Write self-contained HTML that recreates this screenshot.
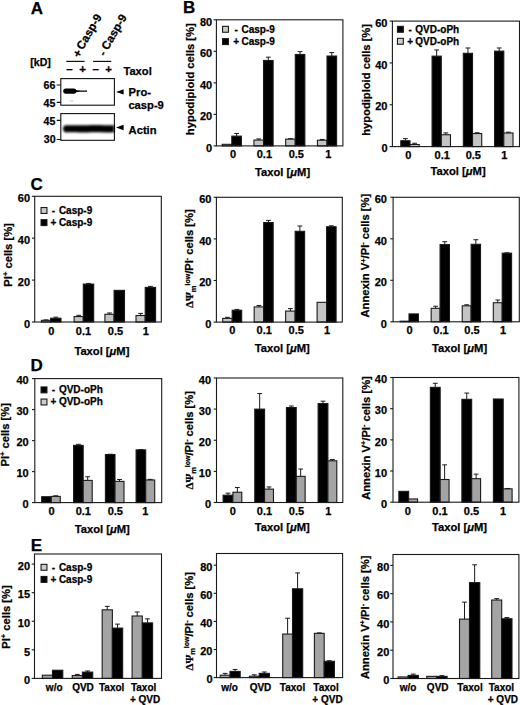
<!DOCTYPE html>
<html><head><meta charset="utf-8"><style>
html,body{margin:0;padding:0;background:#fff;}
svg{display:block;}
text{font-family:"Liberation Sans", sans-serif;font-weight:bold;fill:#000;stroke:#000;stroke-width:0.25px;}
.tk{font-size:11px;}
.tk2{font-size:10px;}
.lg{font-size:10px;}
.tt{font-size:11.2px;}
.pl{font-size:17px;}
.bl{font-size:10.6px;}
.bl2{font-size:11.2px;}
.blr{font-size:11.6px;}
.bls{font-size:11.5px;}
</style></head><body>
<svg width="520" height="705" viewBox="0 0 520 705">
<rect width="520" height="705" fill="#fff"/>
<rect x="222.20" y="144.32" width="9.6" height="1.58" fill="#c4c4c4" stroke="#1a1a1a" stroke-width="1.1"/>
<rect x="231.80" y="136.13" width="9.6" height="9.77" fill="#000" stroke="#1a1a1a" stroke-width="1.1"/>
<path d="M236.60 136.13V133.45M234.20 133.45H239.00" stroke="#1a1a1a" stroke-width="1" fill="none"/>
<rect x="253.93" y="140.07" width="9.6" height="5.83" fill="#c4c4c4" stroke="#1a1a1a" stroke-width="1.1"/>
<path d="M258.73 140.07V138.96M256.33 138.96H261.13" stroke="#1a1a1a" stroke-width="1" fill="none"/>
<rect x="263.53" y="60.47" width="9.6" height="85.43" fill="#000" stroke="#1a1a1a" stroke-width="1.1"/>
<path d="M268.33 60.47V57.16M265.93 57.16H270.73" stroke="#1a1a1a" stroke-width="1" fill="none"/>
<rect x="285.67" y="139.12" width="9.6" height="6.78" fill="#c4c4c4" stroke="#1a1a1a" stroke-width="1.1"/>
<path d="M290.47 139.12V138.65M288.07 138.65H292.87" stroke="#1a1a1a" stroke-width="1" fill="none"/>
<rect x="295.27" y="54.48" width="9.6" height="91.42" fill="#000" stroke="#1a1a1a" stroke-width="1.1"/>
<path d="M300.07 54.48V51.64M297.67 51.64H302.47" stroke="#1a1a1a" stroke-width="1" fill="none"/>
<rect x="317.40" y="140.23" width="9.6" height="5.67" fill="#c4c4c4" stroke="#1a1a1a" stroke-width="1.1"/>
<path d="M322.20 140.23V139.44M319.80 139.44H324.60" stroke="#1a1a1a" stroke-width="1" fill="none"/>
<rect x="327.00" y="56.05" width="9.6" height="89.85" fill="#000" stroke="#1a1a1a" stroke-width="1.1"/>
<path d="M331.80 56.05V52.59M329.40 52.59H334.20" stroke="#1a1a1a" stroke-width="1" fill="none"/>
<rect x="216.4" y="19.8" width="126.50" height="126.10" fill="none" stroke="#1a1a1a" stroke-width="1.1"/>
<line x1="213.6" y1="145.90" x2="216.4" y2="145.90" stroke="#1a1a1a" stroke-width="1.1"/>
<text x="212.20" y="151.60" text-anchor="end" class="tk">0</text>
<line x1="213.6" y1="114.38" x2="216.4" y2="114.38" stroke="#1a1a1a" stroke-width="1.1"/>
<text x="212.20" y="120.08" text-anchor="end" class="tk">20</text>
<line x1="213.6" y1="82.85" x2="216.4" y2="82.85" stroke="#1a1a1a" stroke-width="1.1"/>
<text x="212.20" y="88.55" text-anchor="end" class="tk">40</text>
<line x1="213.6" y1="51.33" x2="216.4" y2="51.33" stroke="#1a1a1a" stroke-width="1.1"/>
<text x="212.20" y="57.03" text-anchor="end" class="tk">60</text>
<line x1="213.6" y1="19.80" x2="216.4" y2="19.80" stroke="#1a1a1a" stroke-width="1.1"/>
<text x="212.20" y="25.50" text-anchor="end" class="tk">80</text>
<rect x="222.55" y="26.35" width="5.9" height="5.9" fill="#cdcdcd" stroke="#1a1a1a" stroke-width="1.1"/>
<text x="236.10" y="32.60" text-anchor="middle" class="lg">-</text>
<text x="241.50" y="32.60" class="lg">Casp-9</text>
<rect x="222.55" y="38.65" width="5.9" height="5.9" fill="#000" stroke="#1a1a1a" stroke-width="1.1"/>
<text x="236.10" y="44.90" text-anchor="middle" class="lg">+</text>
<text x="241.50" y="44.90" class="lg">Casp-9</text>
<text x="233.1" y="158.20" text-anchor="middle" class="tk">0</text>
<text x="264.4" y="158.20" text-anchor="middle" class="tk">0.1</text>
<text x="296.3" y="158.20" text-anchor="middle" class="tk">0.5</text>
<text x="328.3" y="158.20" text-anchor="middle" class="tk">1</text>
<text x="282.6" y="175.9" text-anchor="middle" class="tt">Taxol [<tspan font-style="italic">&#956;</tspan>M]</text>
<text transform="translate(193.6,79.2) rotate(-90)" text-anchor="middle" class="tt">hypodiploid cells [%]</text>
<rect x="400.80" y="140.74" width="9.2" height="5.86" fill="#000" stroke="#1a1a1a" stroke-width="1.1"/>
<path d="M405.40 140.74V138.65M403.00 138.65H407.80" stroke="#1a1a1a" stroke-width="1" fill="none"/>
<rect x="410.00" y="144.51" width="9.2" height="2.09" fill="#c4c4c4" stroke="#1a1a1a" stroke-width="1.1"/>
<path d="M414.60 144.51V143.25M412.20 143.25H417.00" stroke="#1a1a1a" stroke-width="1" fill="none"/>
<rect x="432.07" y="56.14" width="9.2" height="90.46" fill="#000" stroke="#1a1a1a" stroke-width="1.1"/>
<path d="M436.67 56.14V49.96M434.27 49.96H439.07" stroke="#1a1a1a" stroke-width="1" fill="none"/>
<rect x="441.27" y="134.74" width="9.2" height="11.86" fill="#c4c4c4" stroke="#1a1a1a" stroke-width="1.1"/>
<path d="M445.87 134.74V132.90M443.47 132.90H448.27" stroke="#1a1a1a" stroke-width="1" fill="none"/>
<rect x="463.33" y="53.31" width="9.2" height="93.29" fill="#000" stroke="#1a1a1a" stroke-width="1.1"/>
<path d="M467.93 53.31V47.98M465.53 47.98H470.33" stroke="#1a1a1a" stroke-width="1" fill="none"/>
<rect x="472.53" y="133.53" width="9.2" height="13.07" fill="#c4c4c4" stroke="#1a1a1a" stroke-width="1.1"/>
<path d="M477.13 133.53V132.79M474.73 132.79H479.53" stroke="#1a1a1a" stroke-width="1" fill="none"/>
<rect x="494.60" y="51.12" width="9.2" height="95.48" fill="#000" stroke="#1a1a1a" stroke-width="1.1"/>
<path d="M499.20 51.12V47.98M496.80 47.98H501.60" stroke="#1a1a1a" stroke-width="1" fill="none"/>
<rect x="503.80" y="133.00" width="9.2" height="13.60" fill="#c4c4c4" stroke="#1a1a1a" stroke-width="1.1"/>
<path d="M508.40 133.00V132.17M506.00 132.17H510.80" stroke="#1a1a1a" stroke-width="1" fill="none"/>
<rect x="392.4" y="21.1" width="127.10" height="125.50" fill="none" stroke="#1a1a1a" stroke-width="1.1"/>
<line x1="389.59999999999997" y1="146.60" x2="392.4" y2="146.60" stroke="#1a1a1a" stroke-width="1.1"/>
<text x="387.50" y="152.30" text-anchor="end" class="tk">0</text>
<line x1="389.59999999999997" y1="104.77" x2="392.4" y2="104.77" stroke="#1a1a1a" stroke-width="1.1"/>
<text x="387.50" y="110.47" text-anchor="end" class="tk">20</text>
<line x1="389.59999999999997" y1="62.93" x2="392.4" y2="62.93" stroke="#1a1a1a" stroke-width="1.1"/>
<text x="387.50" y="68.63" text-anchor="end" class="tk">40</text>
<line x1="389.59999999999997" y1="21.10" x2="392.4" y2="21.10" stroke="#1a1a1a" stroke-width="1.1"/>
<text x="387.50" y="26.80" text-anchor="end" class="tk">60</text>
<rect x="397.45" y="26.35" width="5.9" height="5.9" fill="#000" stroke="#1a1a1a" stroke-width="1.1"/>
<text x="410.10" y="32.60" text-anchor="middle" class="lg">-</text>
<text x="415.35" y="32.60" class="lg">QVD-oPh</text>
<rect x="397.45" y="38.35" width="5.9" height="5.9" fill="#cdcdcd" stroke="#1a1a1a" stroke-width="1.1"/>
<text x="410.10" y="44.60" text-anchor="middle" class="lg">+</text>
<text x="415.35" y="44.60" class="lg">QVD-oPh</text>
<text x="408.4" y="158.90" text-anchor="middle" class="tk">0</text>
<text x="442.2" y="158.90" text-anchor="middle" class="tk">0.1</text>
<text x="473.3" y="158.90" text-anchor="middle" class="tk">0.5</text>
<text x="504.3" y="158.90" text-anchor="middle" class="tk">1</text>
<text x="458.1" y="175.4" text-anchor="middle" class="tt">Taxol [<tspan font-style="italic">&#956;</tspan>M]</text>
<text transform="translate(370.1,79.9) rotate(-90)" text-anchor="middle" class="tt">hypodiploid cells [%]</text>
<rect x="41.40" y="320.32" width="9.2" height="1.68" fill="#c4c4c4" stroke="#1a1a1a" stroke-width="1.1"/>
<path d="M46.00 320.32V319.90M43.60 319.90H48.40" stroke="#1a1a1a" stroke-width="1" fill="none"/>
<rect x="50.60" y="318.23" width="10.4" height="3.77" fill="#000" stroke="#1a1a1a" stroke-width="1.1"/>
<path d="M55.80 318.23V317.18M53.40 317.18H58.20" stroke="#1a1a1a" stroke-width="1" fill="none"/>
<rect x="74.10" y="316.55" width="9.2" height="5.45" fill="#c4c4c4" stroke="#1a1a1a" stroke-width="1.1"/>
<path d="M78.70 316.55V315.30M76.30 315.30H81.10" stroke="#1a1a1a" stroke-width="1" fill="none"/>
<rect x="83.30" y="284.08" width="10.4" height="37.92" fill="#000" stroke="#1a1a1a" stroke-width="1.1"/>
<path d="M88.50 284.08V283.45M86.10 283.45H90.90" stroke="#1a1a1a" stroke-width="1" fill="none"/>
<rect x="104.90" y="314.25" width="9.2" height="7.75" fill="#c4c4c4" stroke="#1a1a1a" stroke-width="1.1"/>
<path d="M109.50 314.25V312.99M107.10 312.99H111.90" stroke="#1a1a1a" stroke-width="1" fill="none"/>
<rect x="114.10" y="290.37" width="10.4" height="31.63" fill="#000" stroke="#1a1a1a" stroke-width="1.1"/>
<rect x="136.00" y="315.51" width="9.2" height="6.49" fill="#c4c4c4" stroke="#1a1a1a" stroke-width="1.1"/>
<path d="M140.60 315.51V313.41M138.20 313.41H143.00" stroke="#1a1a1a" stroke-width="1" fill="none"/>
<rect x="145.20" y="287.43" width="10.4" height="34.57" fill="#000" stroke="#1a1a1a" stroke-width="1.1"/>
<path d="M150.40 287.43V286.38M148.00 286.38H152.80" stroke="#1a1a1a" stroke-width="1" fill="none"/>
<rect x="34.7" y="196.3" width="126.60" height="125.70" fill="none" stroke="#1a1a1a" stroke-width="1.1"/>
<line x1="31.900000000000002" y1="322.00" x2="34.7" y2="322.00" stroke="#1a1a1a" stroke-width="1.1"/>
<text x="30.10" y="327.70" text-anchor="end" class="tk">0</text>
<line x1="31.900000000000002" y1="280.10" x2="34.7" y2="280.10" stroke="#1a1a1a" stroke-width="1.1"/>
<text x="30.10" y="285.80" text-anchor="end" class="tk">20</text>
<line x1="31.900000000000002" y1="238.20" x2="34.7" y2="238.20" stroke="#1a1a1a" stroke-width="1.1"/>
<text x="30.10" y="243.90" text-anchor="end" class="tk">40</text>
<line x1="31.900000000000002" y1="196.30" x2="34.7" y2="196.30" stroke="#1a1a1a" stroke-width="1.1"/>
<text x="30.10" y="202.00" text-anchor="end" class="tk">60</text>
<rect x="41.05" y="207.55" width="5.9" height="5.9" fill="#cdcdcd" stroke="#1a1a1a" stroke-width="1.1"/>
<text x="53.40" y="213.80" text-anchor="middle" class="lg">-</text>
<text x="58.90" y="213.80" class="lg">Casp-9</text>
<rect x="41.05" y="219.65" width="5.9" height="5.9" fill="#000" stroke="#1a1a1a" stroke-width="1.1"/>
<text x="53.40" y="225.90" text-anchor="middle" class="lg">+</text>
<text x="58.90" y="225.90" class="lg">Casp-9</text>
<text x="51.4" y="334.80" text-anchor="middle" class="tk">0</text>
<text x="83.5" y="334.80" text-anchor="middle" class="tk">0.1</text>
<text x="115.5" y="334.80" text-anchor="middle" class="tk">0.5</text>
<text x="145.9" y="334.80" text-anchor="middle" class="tk">1</text>
<text x="101.9" y="354.5" text-anchor="middle" class="tt">Taxol [<tspan font-style="italic">&#956;</tspan>M]</text>
<text transform="translate(11.5,254.9) rotate(-90)" text-anchor="middle" class="tt">PI<tspan dy="-3.4" font-size="7.5">+</tspan><tspan dy="3.4"> cells [%]</tspan></text>
<rect x="222.70" y="318.36" width="9.5" height="3.74" fill="#c4c4c4" stroke="#1a1a1a" stroke-width="1.1"/>
<path d="M227.45 318.36V317.32M225.05 317.32H229.85" stroke="#1a1a1a" stroke-width="1" fill="none"/>
<rect x="232.20" y="310.24" width="9.5" height="11.86" fill="#000" stroke="#1a1a1a" stroke-width="1.1"/>
<path d="M236.95 310.24V309.41M234.55 309.41H239.35" stroke="#1a1a1a" stroke-width="1" fill="none"/>
<rect x="254.17" y="306.92" width="9.5" height="15.18" fill="#c4c4c4" stroke="#1a1a1a" stroke-width="1.1"/>
<path d="M258.92 306.92V305.46M256.52 305.46H261.32" stroke="#1a1a1a" stroke-width="1" fill="none"/>
<rect x="263.67" y="222.57" width="9.5" height="99.53" fill="#000" stroke="#1a1a1a" stroke-width="1.1"/>
<path d="M268.42 222.57V220.39M266.02 220.39H270.82" stroke="#1a1a1a" stroke-width="1" fill="none"/>
<rect x="285.63" y="311.08" width="9.5" height="11.02" fill="#c4c4c4" stroke="#1a1a1a" stroke-width="1.1"/>
<path d="M290.38 311.08V308.58M287.98 308.58H292.78" stroke="#1a1a1a" stroke-width="1" fill="none"/>
<rect x="295.13" y="231.31" width="9.5" height="90.79" fill="#000" stroke="#1a1a1a" stroke-width="1.1"/>
<path d="M299.88 231.31V226.00M297.48 226.00H302.28" stroke="#1a1a1a" stroke-width="1" fill="none"/>
<rect x="317.10" y="302.34" width="9.5" height="19.76" fill="#c4c4c4" stroke="#1a1a1a" stroke-width="1.1"/>
<rect x="326.60" y="226.73" width="9.5" height="95.37" fill="#000" stroke="#1a1a1a" stroke-width="1.1"/>
<path d="M331.35 226.73V225.80M328.95 225.80H333.75" stroke="#1a1a1a" stroke-width="1" fill="none"/>
<rect x="216.4" y="197.3" width="125.90" height="124.80" fill="none" stroke="#1a1a1a" stroke-width="1.1"/>
<line x1="213.6" y1="322.10" x2="216.4" y2="322.10" stroke="#1a1a1a" stroke-width="1.1"/>
<text x="211.45" y="327.80" text-anchor="end" class="tk">0</text>
<line x1="213.6" y1="280.50" x2="216.4" y2="280.50" stroke="#1a1a1a" stroke-width="1.1"/>
<text x="211.45" y="286.20" text-anchor="end" class="tk">20</text>
<line x1="213.6" y1="238.90" x2="216.4" y2="238.90" stroke="#1a1a1a" stroke-width="1.1"/>
<text x="211.45" y="244.60" text-anchor="end" class="tk">40</text>
<line x1="213.6" y1="197.30" x2="216.4" y2="197.30" stroke="#1a1a1a" stroke-width="1.1"/>
<text x="211.45" y="203.00" text-anchor="end" class="tk">60</text>
<text x="232.2" y="334.40" text-anchor="middle" class="tk">0</text>
<text x="264.2" y="334.40" text-anchor="middle" class="tk">0.1</text>
<text x="296.2" y="334.40" text-anchor="middle" class="tk">0.5</text>
<text x="327.1" y="334.40" text-anchor="middle" class="tk">1</text>
<text x="282.3" y="352.0" text-anchor="middle" class="tt">Taxol [<tspan font-style="italic">&#956;</tspan>M]</text>
<text transform="translate(192.9,258.6) rotate(-90)" text-anchor="middle" class="tt"><tspan font-family="Liberation Serif">&#916;&#936;</tspan><tspan dy="2.8" font-size="7.5">m</tspan><tspan dy="-6.2" font-size="7">low</tspan><tspan dy="3.4">/PI</tspan><tspan dy="-3.6" font-size="7">-</tspan><tspan dy="3.6"> cells [%]</tspan></text>
<rect x="400.10" y="321.18" width="8.9" height="0.62" fill="#c4c4c4" stroke="#1a1a1a" stroke-width="1.1"/>
<rect x="409.00" y="313.92" width="9.4" height="7.88" fill="#000" stroke="#1a1a1a" stroke-width="1.1"/>
<rect x="431.17" y="308.31" width="8.9" height="13.49" fill="#c4c4c4" stroke="#1a1a1a" stroke-width="1.1"/>
<path d="M435.62 308.31V306.24M433.22 306.24H438.02" stroke="#1a1a1a" stroke-width="1" fill="none"/>
<rect x="440.07" y="244.61" width="9.4" height="77.19" fill="#000" stroke="#1a1a1a" stroke-width="1.1"/>
<path d="M444.77 244.61V241.70M442.37 241.70H447.17" stroke="#1a1a1a" stroke-width="1" fill="none"/>
<rect x="462.23" y="305.82" width="8.9" height="15.98" fill="#c4c4c4" stroke="#1a1a1a" stroke-width="1.1"/>
<path d="M466.68 305.82V304.79M464.28 304.79H469.08" stroke="#1a1a1a" stroke-width="1" fill="none"/>
<rect x="471.13" y="244.30" width="9.4" height="77.50" fill="#000" stroke="#1a1a1a" stroke-width="1.1"/>
<path d="M475.83 244.30V239.73M473.43 239.73H478.23" stroke="#1a1a1a" stroke-width="1" fill="none"/>
<rect x="493.30" y="302.71" width="8.9" height="19.09" fill="#c4c4c4" stroke="#1a1a1a" stroke-width="1.1"/>
<path d="M497.75 302.71V300.01M495.35 300.01H500.15" stroke="#1a1a1a" stroke-width="1" fill="none"/>
<rect x="502.20" y="253.18" width="9.4" height="68.62" fill="#000" stroke="#1a1a1a" stroke-width="1.1"/>
<path d="M506.90 253.18V252.81M504.50 252.81H509.30" stroke="#1a1a1a" stroke-width="1" fill="none"/>
<rect x="393.1" y="197.3" width="126.20" height="124.50" fill="none" stroke="#1a1a1a" stroke-width="1.1"/>
<line x1="390.3" y1="321.80" x2="393.1" y2="321.80" stroke="#1a1a1a" stroke-width="1.1"/>
<text x="386.90" y="327.50" text-anchor="end" class="tk">0</text>
<line x1="390.3" y1="280.30" x2="393.1" y2="280.30" stroke="#1a1a1a" stroke-width="1.1"/>
<text x="386.90" y="286.00" text-anchor="end" class="tk">20</text>
<line x1="390.3" y1="238.80" x2="393.1" y2="238.80" stroke="#1a1a1a" stroke-width="1.1"/>
<text x="386.90" y="244.50" text-anchor="end" class="tk">40</text>
<line x1="390.3" y1="197.30" x2="393.1" y2="197.30" stroke="#1a1a1a" stroke-width="1.1"/>
<text x="386.90" y="203.00" text-anchor="end" class="tk">60</text>
<text x="409.5" y="334.10" text-anchor="middle" class="tk">0</text>
<text x="441" y="334.10" text-anchor="middle" class="tk">0.1</text>
<text x="472" y="334.10" text-anchor="middle" class="tk">0.5</text>
<text x="503" y="334.10" text-anchor="middle" class="tk">1</text>
<text x="459.6" y="352.0" text-anchor="middle" class="tt">Taxol [<tspan font-style="italic">&#956;</tspan>M]</text>
<text transform="translate(368.9,255.7) rotate(-90)" text-anchor="middle" class="tt">Annexin V<tspan dy="-3.4" font-size="7.5">+</tspan><tspan dy="3.4">/PI</tspan><tspan dy="-3.6" font-size="7">-</tspan><tspan dy="3.6"> cells [%]</tspan></text>
<rect x="41.65" y="496.71" width="9.6" height="5.89" fill="#000" stroke="#1a1a1a" stroke-width="1.1"/>
<rect x="51.25" y="496.40" width="9.0" height="6.20" fill="#a4a4a4" stroke="#1a1a1a" stroke-width="1.1"/>
<path d="M55.75 496.40V495.78M53.35 495.78H58.15" stroke="#1a1a1a" stroke-width="1" fill="none"/>
<rect x="73.60" y="445.37" width="9.6" height="57.23" fill="#000" stroke="#1a1a1a" stroke-width="1.1"/>
<path d="M78.40 445.37V444.32M76.00 444.32H80.80" stroke="#1a1a1a" stroke-width="1" fill="none"/>
<rect x="83.20" y="480.40" width="9.0" height="22.20" fill="#a4a4a4" stroke="#1a1a1a" stroke-width="1.1"/>
<path d="M87.70 480.40V476.75M85.30 476.75H90.10" stroke="#1a1a1a" stroke-width="1" fill="none"/>
<rect x="105.40" y="454.55" width="9.6" height="48.05" fill="#000" stroke="#1a1a1a" stroke-width="1.1"/>
<path d="M110.20 454.55V454.24M107.80 454.24H112.60" stroke="#1a1a1a" stroke-width="1" fill="none"/>
<rect x="115.00" y="481.37" width="9.0" height="21.24" fill="#a4a4a4" stroke="#1a1a1a" stroke-width="1.1"/>
<path d="M119.50 481.37V479.50M117.10 479.50H121.90" stroke="#1a1a1a" stroke-width="1" fill="none"/>
<rect x="136.10" y="449.90" width="9.6" height="52.70" fill="#000" stroke="#1a1a1a" stroke-width="1.1"/>
<path d="M140.90 449.90V449.59M138.50 449.59H143.30" stroke="#1a1a1a" stroke-width="1" fill="none"/>
<rect x="145.70" y="479.97" width="9.0" height="22.63" fill="#a4a4a4" stroke="#1a1a1a" stroke-width="1.1"/>
<path d="M150.20 479.97V479.35M147.80 479.35H152.60" stroke="#1a1a1a" stroke-width="1" fill="none"/>
<rect x="34.8" y="378.6" width="126.90" height="124.00" fill="none" stroke="#1a1a1a" stroke-width="1.1"/>
<line x1="31.999999999999996" y1="502.60" x2="34.8" y2="502.60" stroke="#1a1a1a" stroke-width="1.1"/>
<text x="28.70" y="508.30" text-anchor="end" class="tk">0</text>
<line x1="31.999999999999996" y1="471.60" x2="34.8" y2="471.60" stroke="#1a1a1a" stroke-width="1.1"/>
<text x="28.70" y="477.30" text-anchor="end" class="tk">10</text>
<line x1="31.999999999999996" y1="440.60" x2="34.8" y2="440.60" stroke="#1a1a1a" stroke-width="1.1"/>
<text x="28.70" y="446.30" text-anchor="end" class="tk">20</text>
<line x1="31.999999999999996" y1="409.60" x2="34.8" y2="409.60" stroke="#1a1a1a" stroke-width="1.1"/>
<text x="28.70" y="415.30" text-anchor="end" class="tk">30</text>
<line x1="31.999999999999996" y1="378.60" x2="34.8" y2="378.60" stroke="#1a1a1a" stroke-width="1.1"/>
<text x="28.70" y="384.30" text-anchor="end" class="tk">40</text>
<rect x="41.05" y="386.95" width="5.9" height="5.9" fill="#000" stroke="#1a1a1a" stroke-width="1.1"/>
<text x="53.40" y="393.20" text-anchor="middle" class="lg">-</text>
<text x="58.90" y="393.20" class="lg">QVD-oPh</text>
<rect x="41.05" y="399.05" width="5.9" height="5.9" fill="#cdcdcd" stroke="#1a1a1a" stroke-width="1.1"/>
<text x="53.40" y="405.30" text-anchor="middle" class="lg">+</text>
<text x="58.90" y="405.30" class="lg">QVD-oPh</text>
<text x="51.5" y="514.90" text-anchor="middle" class="tk">0</text>
<text x="83.3" y="514.90" text-anchor="middle" class="tk">0.1</text>
<text x="115.3" y="514.90" text-anchor="middle" class="tk">0.5</text>
<text x="145.3" y="514.90" text-anchor="middle" class="tk">1</text>
<text x="102.3" y="532.7" text-anchor="middle" class="tt">Taxol [<tspan font-style="italic">&#956;</tspan>M]</text>
<text transform="translate(8.6,434.8) rotate(-90)" text-anchor="middle" class="tt">PI<tspan dy="-3.4" font-size="7.5">+</tspan><tspan dy="3.4"> cells [%]</tspan></text>
<rect x="223.10" y="495.19" width="9.8" height="7.31" fill="#000" stroke="#1a1a1a" stroke-width="1.1"/>
<path d="M228.00 495.19V493.16M225.60 493.16H230.40" stroke="#1a1a1a" stroke-width="1" fill="none"/>
<rect x="232.90" y="492.23" width="8.9" height="10.27" fill="#a4a4a4" stroke="#1a1a1a" stroke-width="1.1"/>
<path d="M237.35 492.23V487.56M234.95 487.56H239.75" stroke="#1a1a1a" stroke-width="1" fill="none"/>
<rect x="254.77" y="409.12" width="9.8" height="93.38" fill="#000" stroke="#1a1a1a" stroke-width="1.1"/>
<path d="M259.67 409.12V393.56M257.27 393.56H262.07" stroke="#1a1a1a" stroke-width="1" fill="none"/>
<rect x="264.57" y="489.12" width="8.9" height="13.38" fill="#a4a4a4" stroke="#1a1a1a" stroke-width="1.1"/>
<path d="M269.02 489.12V486.94M266.62 486.94H271.42" stroke="#1a1a1a" stroke-width="1" fill="none"/>
<rect x="286.43" y="407.57" width="9.8" height="94.93" fill="#000" stroke="#1a1a1a" stroke-width="1.1"/>
<path d="M291.33 407.57V406.01M288.93 406.01H293.73" stroke="#1a1a1a" stroke-width="1" fill="none"/>
<rect x="296.23" y="476.36" width="8.9" height="26.14" fill="#a4a4a4" stroke="#1a1a1a" stroke-width="1.1"/>
<path d="M300.68 476.36V469.04M298.28 469.04H303.08" stroke="#1a1a1a" stroke-width="1" fill="none"/>
<rect x="318.10" y="403.58" width="9.8" height="98.92" fill="#000" stroke="#1a1a1a" stroke-width="1.1"/>
<path d="M323.00 403.58V401.19M320.60 401.19H325.40" stroke="#1a1a1a" stroke-width="1" fill="none"/>
<rect x="327.90" y="460.79" width="8.9" height="41.71" fill="#a4a4a4" stroke="#1a1a1a" stroke-width="1.1"/>
<path d="M332.35 460.79V459.55M329.95 459.55H334.75" stroke="#1a1a1a" stroke-width="1" fill="none"/>
<rect x="216.5" y="378.0" width="126.30" height="124.50" fill="none" stroke="#1a1a1a" stroke-width="1.1"/>
<line x1="213.7" y1="502.50" x2="216.5" y2="502.50" stroke="#1a1a1a" stroke-width="1.1"/>
<text x="211.10" y="508.20" text-anchor="end" class="tk">0</text>
<line x1="213.7" y1="471.38" x2="216.5" y2="471.38" stroke="#1a1a1a" stroke-width="1.1"/>
<text x="211.10" y="477.07" text-anchor="end" class="tk">10</text>
<line x1="213.7" y1="440.25" x2="216.5" y2="440.25" stroke="#1a1a1a" stroke-width="1.1"/>
<text x="211.10" y="445.95" text-anchor="end" class="tk">20</text>
<line x1="213.7" y1="409.12" x2="216.5" y2="409.12" stroke="#1a1a1a" stroke-width="1.1"/>
<text x="211.10" y="414.82" text-anchor="end" class="tk">30</text>
<line x1="213.7" y1="378.00" x2="216.5" y2="378.00" stroke="#1a1a1a" stroke-width="1.1"/>
<text x="211.10" y="383.70" text-anchor="end" class="tk">40</text>
<text x="232.8" y="514.80" text-anchor="middle" class="tk">0</text>
<text x="264.5" y="514.80" text-anchor="middle" class="tk">0.1</text>
<text x="296.5" y="514.80" text-anchor="middle" class="tk">0.5</text>
<text x="328.3" y="514.80" text-anchor="middle" class="tk">1</text>
<text x="282.3" y="531.2" text-anchor="middle" class="tt">Taxol [<tspan font-style="italic">&#956;</tspan>M]</text>
<text transform="translate(193.0,440.3) rotate(-90)" text-anchor="middle" class="tt"><tspan font-family="Liberation Serif">&#916;&#936;</tspan><tspan dy="2.8" font-size="7.5">m</tspan><tspan dy="-6.2" font-size="7">low</tspan><tspan dy="3.4">/PI</tspan><tspan dy="-3.6" font-size="7">-</tspan><tspan dy="3.6"> cells [%]</tspan></text>
<rect x="398.85" y="491.35" width="9.8" height="10.85" fill="#000" stroke="#1a1a1a" stroke-width="1.1"/>
<rect x="408.65" y="498.96" width="8.9" height="3.24" fill="#a4a4a4" stroke="#1a1a1a" stroke-width="1.1"/>
<rect x="430.37" y="387.35" width="9.8" height="114.85" fill="#000" stroke="#1a1a1a" stroke-width="1.1"/>
<path d="M435.27 387.35V383.30M432.87 383.30H437.67" stroke="#1a1a1a" stroke-width="1" fill="none"/>
<rect x="440.17" y="479.50" width="8.9" height="22.70" fill="#a4a4a4" stroke="#1a1a1a" stroke-width="1.1"/>
<path d="M444.62 479.50V464.85M442.22 464.85H447.02" stroke="#1a1a1a" stroke-width="1" fill="none"/>
<rect x="461.88" y="399.32" width="9.8" height="102.88" fill="#000" stroke="#1a1a1a" stroke-width="1.1"/>
<path d="M466.78 399.32V393.09M464.38 393.09H469.18" stroke="#1a1a1a" stroke-width="1" fill="none"/>
<rect x="471.68" y="478.69" width="8.9" height="23.51" fill="#a4a4a4" stroke="#1a1a1a" stroke-width="1.1"/>
<path d="M476.13 478.69V474.14M473.73 474.14H478.53" stroke="#1a1a1a" stroke-width="1" fill="none"/>
<rect x="493.40" y="399.01" width="9.8" height="103.19" fill="#000" stroke="#1a1a1a" stroke-width="1.1"/>
<rect x="503.20" y="488.86" width="8.9" height="13.34" fill="#a4a4a4" stroke="#1a1a1a" stroke-width="1.1"/>
<path d="M507.65 488.86V488.48M505.25 488.48H510.05" stroke="#1a1a1a" stroke-width="1" fill="none"/>
<rect x="393.0" y="377.5" width="125.90" height="124.70" fill="none" stroke="#1a1a1a" stroke-width="1.1"/>
<line x1="390.2" y1="502.20" x2="393.0" y2="502.20" stroke="#1a1a1a" stroke-width="1.1"/>
<text x="387.10" y="507.90" text-anchor="end" class="tk">0</text>
<line x1="390.2" y1="471.02" x2="393.0" y2="471.02" stroke="#1a1a1a" stroke-width="1.1"/>
<text x="387.10" y="476.72" text-anchor="end" class="tk">10</text>
<line x1="390.2" y1="439.85" x2="393.0" y2="439.85" stroke="#1a1a1a" stroke-width="1.1"/>
<text x="387.10" y="445.55" text-anchor="end" class="tk">20</text>
<line x1="390.2" y1="408.67" x2="393.0" y2="408.67" stroke="#1a1a1a" stroke-width="1.1"/>
<text x="387.10" y="414.37" text-anchor="end" class="tk">30</text>
<line x1="390.2" y1="377.50" x2="393.0" y2="377.50" stroke="#1a1a1a" stroke-width="1.1"/>
<text x="387.10" y="383.20" text-anchor="end" class="tk">40</text>
<text x="407.8" y="514.50" text-anchor="middle" class="tk">0</text>
<text x="440" y="514.50" text-anchor="middle" class="tk">0.1</text>
<text x="471.5" y="514.50" text-anchor="middle" class="tk">0.5</text>
<text x="503" y="514.50" text-anchor="middle" class="tk">1</text>
<text x="459.5" y="530.7" text-anchor="middle" class="tt">Taxol [<tspan font-style="italic">&#956;</tspan>M]</text>
<text transform="translate(369.5,438.0) rotate(-90)" text-anchor="middle" class="tt">Annexin V<tspan dy="-3.4" font-size="7.5">+</tspan><tspan dy="3.4">/PI</tspan><tspan dy="-3.6" font-size="7">-</tspan><tspan dy="3.6"> cells [%]</tspan></text>
<rect x="42.30" y="675.20" width="10.2" height="3.20" fill="#a4a4a4" stroke="#1a1a1a" stroke-width="1.1"/>
<rect x="52.50" y="670.23" width="10.3" height="8.17" fill="#000" stroke="#1a1a1a" stroke-width="1.1"/>
<rect x="72.23" y="675.54" width="10.2" height="2.86" fill="#a4a4a4" stroke="#1a1a1a" stroke-width="1.1"/>
<path d="M77.33 675.54V674.40M74.93 674.40H79.73" stroke="#1a1a1a" stroke-width="1" fill="none"/>
<rect x="82.43" y="672.11" width="10.3" height="6.29" fill="#000" stroke="#1a1a1a" stroke-width="1.1"/>
<path d="M87.58 672.11V670.97M85.18 670.97H89.98" stroke="#1a1a1a" stroke-width="1" fill="none"/>
<rect x="102.17" y="609.82" width="10.2" height="68.58" fill="#a4a4a4" stroke="#1a1a1a" stroke-width="1.1"/>
<path d="M107.27 609.82V606.39M104.87 606.39H109.67" stroke="#1a1a1a" stroke-width="1" fill="none"/>
<rect x="112.37" y="628.11" width="10.3" height="50.29" fill="#000" stroke="#1a1a1a" stroke-width="1.1"/>
<path d="M117.52 628.11V624.11M115.12 624.11H119.92" stroke="#1a1a1a" stroke-width="1" fill="none"/>
<rect x="132.10" y="615.99" width="10.2" height="62.41" fill="#a4a4a4" stroke="#1a1a1a" stroke-width="1.1"/>
<path d="M137.20 615.99V611.99M134.80 611.99H139.60" stroke="#1a1a1a" stroke-width="1" fill="none"/>
<rect x="142.30" y="622.91" width="10.3" height="55.49" fill="#000" stroke="#1a1a1a" stroke-width="1.1"/>
<path d="M147.45 622.91V618.85M145.05 618.85H149.85" stroke="#1a1a1a" stroke-width="1" fill="none"/>
<rect x="34.5" y="554.0" width="127.00" height="124.40" fill="none" stroke="#1a1a1a" stroke-width="1.1"/>
<line x1="31.7" y1="678.40" x2="34.5" y2="678.40" stroke="#1a1a1a" stroke-width="1.1"/>
<text x="30.10" y="684.10" text-anchor="end" class="tk">0</text>
<line x1="31.7" y1="649.82" x2="34.5" y2="649.82" stroke="#1a1a1a" stroke-width="1.1"/>
<text x="30.10" y="655.52" text-anchor="end" class="tk">5</text>
<line x1="31.7" y1="621.25" x2="34.5" y2="621.25" stroke="#1a1a1a" stroke-width="1.1"/>
<text x="30.10" y="626.95" text-anchor="end" class="tk">10</text>
<line x1="31.7" y1="592.67" x2="34.5" y2="592.67" stroke="#1a1a1a" stroke-width="1.1"/>
<text x="30.10" y="598.38" text-anchor="end" class="tk">15</text>
<line x1="31.7" y1="564.10" x2="34.5" y2="564.10" stroke="#1a1a1a" stroke-width="1.1"/>
<text x="30.10" y="569.80" text-anchor="end" class="tk">20</text>
<rect x="41.05" y="564.35" width="5.9" height="5.9" fill="#cdcdcd" stroke="#1a1a1a" stroke-width="1.1"/>
<text x="53.40" y="570.60" text-anchor="middle" class="lg">-</text>
<text x="58.90" y="570.60" class="lg">Casp-9</text>
<rect x="41.05" y="576.45" width="5.9" height="5.9" fill="#000" stroke="#1a1a1a" stroke-width="1.1"/>
<text x="53.40" y="582.70" text-anchor="middle" class="lg">+</text>
<text x="58.90" y="582.70" class="lg">Casp-9</text>
<text x="54.2" y="690.50" text-anchor="middle" class="tk2">w/o</text>
<text x="83" y="690.50" text-anchor="middle" class="tk2">QVD</text>
<text x="111.7" y="690.50" text-anchor="middle" class="tk2">Taxol</text>
<text x="143.6" y="690.50" text-anchor="middle" class="tk2">Taxol</text>
<text x="145.1" y="703.00" text-anchor="middle" class="tk2">+ QVD</text>
<text transform="translate(9.8,617.0) rotate(-90)" text-anchor="middle" class="tt">PI<tspan dy="-3.4" font-size="7.5">+</tspan><tspan dy="3.4"> cells [%]</tspan></text>
<rect x="220.20" y="675.21" width="9.8" height="2.39" fill="#a4a4a4" stroke="#1a1a1a" stroke-width="1.1"/>
<path d="M225.10 675.21V673.38M222.70 673.38H227.50" stroke="#1a1a1a" stroke-width="1" fill="none"/>
<rect x="230.00" y="671.42" width="10.2" height="6.18" fill="#000" stroke="#1a1a1a" stroke-width="1.1"/>
<path d="M235.10 671.42V669.45M232.70 669.45H237.50" stroke="#1a1a1a" stroke-width="1" fill="none"/>
<rect x="249.40" y="676.20" width="9.8" height="1.40" fill="#a4a4a4" stroke="#1a1a1a" stroke-width="1.1"/>
<path d="M254.30 676.20V674.79M251.90 674.79H256.70" stroke="#1a1a1a" stroke-width="1" fill="none"/>
<rect x="259.20" y="673.38" width="10.2" height="4.22" fill="#000" stroke="#1a1a1a" stroke-width="1.1"/>
<path d="M264.30 673.38V671.98M261.90 671.98H266.70" stroke="#1a1a1a" stroke-width="1" fill="none"/>
<rect x="282.70" y="634.05" width="9.8" height="43.55" fill="#a4a4a4" stroke="#1a1a1a" stroke-width="1.1"/>
<path d="M287.60 634.05V618.24M285.20 618.24H290.00" stroke="#1a1a1a" stroke-width="1" fill="none"/>
<rect x="292.50" y="588.80" width="10.2" height="88.80" fill="#000" stroke="#1a1a1a" stroke-width="1.1"/>
<path d="M297.60 588.80V572.93M295.20 572.93H300.00" stroke="#1a1a1a" stroke-width="1" fill="none"/>
<rect x="314.40" y="633.34" width="9.8" height="44.26" fill="#a4a4a4" stroke="#1a1a1a" stroke-width="1.1"/>
<path d="M319.30 633.34V632.92M316.90 632.92H321.70" stroke="#1a1a1a" stroke-width="1" fill="none"/>
<rect x="324.20" y="661.30" width="10.2" height="16.30" fill="#000" stroke="#1a1a1a" stroke-width="1.1"/>
<path d="M329.30 661.30V660.74M326.90 660.74H331.70" stroke="#1a1a1a" stroke-width="1" fill="none"/>
<rect x="216.5" y="553.5" width="126.10" height="124.10" fill="none" stroke="#1a1a1a" stroke-width="1.1"/>
<line x1="213.7" y1="677.60" x2="216.5" y2="677.60" stroke="#1a1a1a" stroke-width="1.1"/>
<text x="212.50" y="683.30" text-anchor="end" class="tk">0</text>
<line x1="213.7" y1="649.50" x2="216.5" y2="649.50" stroke="#1a1a1a" stroke-width="1.1"/>
<text x="212.50" y="655.20" text-anchor="end" class="tk">20</text>
<line x1="213.7" y1="621.40" x2="216.5" y2="621.40" stroke="#1a1a1a" stroke-width="1.1"/>
<text x="212.50" y="627.10" text-anchor="end" class="tk">40</text>
<line x1="213.7" y1="593.30" x2="216.5" y2="593.30" stroke="#1a1a1a" stroke-width="1.1"/>
<text x="212.50" y="599.00" text-anchor="end" class="tk">60</text>
<line x1="213.7" y1="565.20" x2="216.5" y2="565.20" stroke="#1a1a1a" stroke-width="1.1"/>
<text x="212.50" y="570.90" text-anchor="end" class="tk">80</text>
<text x="229.5" y="690.50" text-anchor="middle" class="tk2">w/o</text>
<text x="260.5" y="690.50" text-anchor="middle" class="tk2">QVD</text>
<text x="292.5" y="690.50" text-anchor="middle" class="tk2">Taxol</text>
<text x="326" y="690.50" text-anchor="middle" class="tk2">Taxol</text>
<text x="327.5" y="703.00" text-anchor="middle" class="tk2">+ QVD</text>
<text transform="translate(192.5,621.3) rotate(-90)" text-anchor="middle" class="tt"><tspan font-family="Liberation Serif">&#916;&#936;</tspan><tspan dy="2.8" font-size="7.5">m</tspan><tspan dy="-6.2" font-size="7">low</tspan><tspan dy="3.4">/PI</tspan><tspan dy="-3.6" font-size="7">-</tspan><tspan dy="3.6"> cells [%]</tspan></text>
<rect x="398.10" y="676.94" width="10.0" height="1.56" fill="#a4a4a4" stroke="#1a1a1a" stroke-width="1.1"/>
<rect x="408.10" y="675.39" width="10.3" height="3.11" fill="#000" stroke="#1a1a1a" stroke-width="1.1"/>
<path d="M413.25 675.39V674.12M410.85 674.12H415.65" stroke="#1a1a1a" stroke-width="1" fill="none"/>
<rect x="426.80" y="676.38" width="10.0" height="2.12" fill="#a4a4a4" stroke="#1a1a1a" stroke-width="1.1"/>
<rect x="436.80" y="676.38" width="10.3" height="2.12" fill="#000" stroke="#1a1a1a" stroke-width="1.1"/>
<path d="M441.95 676.38V675.67M439.55 675.67H444.35" stroke="#1a1a1a" stroke-width="1" fill="none"/>
<rect x="459.50" y="619.11" width="10.0" height="59.39" fill="#a4a4a4" stroke="#1a1a1a" stroke-width="1.1"/>
<path d="M464.50 619.11V602.14M462.10 602.14H466.90" stroke="#1a1a1a" stroke-width="1" fill="none"/>
<rect x="469.50" y="582.63" width="10.3" height="95.87" fill="#000" stroke="#1a1a1a" stroke-width="1.1"/>
<path d="M474.65 582.63V564.81M472.25 564.81H477.05" stroke="#1a1a1a" stroke-width="1" fill="none"/>
<rect x="491.70" y="600.02" width="10.0" height="78.48" fill="#a4a4a4" stroke="#1a1a1a" stroke-width="1.1"/>
<path d="M496.70 600.02V598.61M494.30 598.61H499.10" stroke="#1a1a1a" stroke-width="1" fill="none"/>
<rect x="501.70" y="618.76" width="10.3" height="59.74" fill="#000" stroke="#1a1a1a" stroke-width="1.1"/>
<path d="M506.85 618.76V617.56M504.45 617.56H509.25" stroke="#1a1a1a" stroke-width="1" fill="none"/>
<rect x="393.0" y="554.5" width="125.90" height="124.00" fill="none" stroke="#1a1a1a" stroke-width="1.1"/>
<line x1="390.2" y1="678.50" x2="393.0" y2="678.50" stroke="#1a1a1a" stroke-width="1.1"/>
<text x="389.30" y="684.20" text-anchor="end" class="tk">0</text>
<line x1="390.2" y1="650.22" x2="393.0" y2="650.22" stroke="#1a1a1a" stroke-width="1.1"/>
<text x="389.30" y="655.92" text-anchor="end" class="tk">20</text>
<line x1="390.2" y1="621.94" x2="393.0" y2="621.94" stroke="#1a1a1a" stroke-width="1.1"/>
<text x="389.30" y="627.64" text-anchor="end" class="tk">40</text>
<line x1="390.2" y1="593.66" x2="393.0" y2="593.66" stroke="#1a1a1a" stroke-width="1.1"/>
<text x="389.30" y="599.36" text-anchor="end" class="tk">60</text>
<line x1="390.2" y1="565.38" x2="393.0" y2="565.38" stroke="#1a1a1a" stroke-width="1.1"/>
<text x="389.30" y="571.08" text-anchor="end" class="tk">80</text>
<text x="408" y="690.50" text-anchor="middle" class="tk2">w/o</text>
<text x="437.7" y="690.50" text-anchor="middle" class="tk2">QVD</text>
<text x="470" y="690.50" text-anchor="middle" class="tk2">Taxol</text>
<text x="501.4" y="690.50" text-anchor="middle" class="tk2">Taxol</text>
<text x="502.9" y="703.00" text-anchor="middle" class="tk2">+ QVD</text>
<text transform="translate(368.6,617.3) rotate(-90)" text-anchor="middle" class="tt">Annexin V<tspan dy="-3.4" font-size="7.5">+</tspan><tspan dy="3.4">/PI</tspan><tspan dy="-3.6" font-size="7">-</tspan><tspan dy="3.6"> cells [%]</tspan></text>
<text x="30.8" y="13.5" class="pl">A</text>
<text x="182.9" y="13.2" class="pl">B</text>
<text x="30.6" y="189.5" class="pl">C</text>
<text x="30.6" y="371.2" class="pl">D</text>
<text x="30.7" y="551.3" class="pl">E</text>
<defs>
<filter id="bl1" x="-30%" y="-80%" width="160%" height="260%"><feGaussianBlur stdDeviation="0.6"/></filter>
<filter id="bl2" x="-30%" y="-80%" width="160%" height="260%"><feGaussianBlur stdDeviation="0.8"/></filter>
</defs>
<text x="30.3" y="66.3" class="bl">[kD]</text>
<text transform="translate(77.6,53.4) rotate(-60)" x="0" y="3.9" text-anchor="middle" font-size="12">+</text>
<text transform="translate(82.8,50.4) rotate(-60)" class="blr">Casp-9</text>
<text transform="translate(102.9,53.4) rotate(-60)" x="0" y="3.3" text-anchor="middle" font-size="11">-</text>
<text transform="translate(107.8,50.7) rotate(-60)" class="blr">Casp-9</text>
<line x1="66.3" y1="61.4" x2="84.6" y2="61.4" stroke="#111" stroke-width="1.2"/>
<line x1="93.1" y1="61.4" x2="111.3" y2="61.4" stroke="#111" stroke-width="1.2"/>
<text x="69.4" y="72.9" text-anchor="middle" class="bls">&#8211;</text>
<text x="82.7" y="72.9" text-anchor="middle" class="bls">+</text>
<text x="95.6" y="72.9" text-anchor="middle" class="bls">&#8211;</text>
<text x="108.7" y="72.9" text-anchor="middle" class="bls">+</text>
<text x="123.4" y="74.8" class="bl2">Taxol</text>
<rect x="60.8" y="78.6" width="53.6" height="26.6" fill="#fff" stroke="#111" stroke-width="1.1"/>
<rect x="60.8" y="113.6" width="53.6" height="26.7" fill="#fff" stroke="#111" stroke-width="1.1"/>
<path d="M56.7 85H60.8M56.7 102.4H60.8M56.7 120.4H60.8M56.7 139.5H60.8" stroke="#111" stroke-width="1.1"/>
<text x="55.3" y="88.6" text-anchor="end" class="bl">66</text>
<text x="55.3" y="107.3" text-anchor="end" class="bl">45</text>
<text x="55.3" y="124.9" text-anchor="end" class="bl">45</text>
<text x="55.6" y="143" text-anchor="end" class="bl">30</text>
<g filter="url(#bl1)">
<rect x="63.2" y="88.4" width="13.2" height="5.4" rx="2.7" fill="#000"/>
<path d="M75 89.9 C78 90.3 82 90.4 87 90.5 L87 91.8 C82 91.8 78 91.9 75 92.3 Z" fill="#000"/>
<ellipse cx="71.5" cy="100.9" rx="2" ry="0.7" fill="#ccc"/>
</g>
<g filter="url(#bl2)">
<path d="M66 125.3 C72 124.8 80 125.6 88 125.2 C96 124.8 104 125.6 114 125.2 L114 132.3 C104 132.8 96 132.0 88 132.4 C80 132.8 72 132.0 66 132.4 C62 132.4 62 125.3 66 125.3 Z" fill="#000"/>
</g>
<path d="M114.4 125 V132.5" stroke="#000" stroke-width="1.2"/>
<path d="M116.0 91.9 L123.6 89.2 L123.6 94.6 Z" fill="#000"/>
<path d="M116.0 127.5 L123.6 124.8 L123.6 130.2 Z" fill="#000"/>
<text x="128.6" y="95.9" class="bl2">Pro-</text>
<text x="128.4" y="108.9" class="bl2">casp-9</text>
<text x="128.6" y="133.5" class="bl2">Actin</text>

</svg>
</body></html>
